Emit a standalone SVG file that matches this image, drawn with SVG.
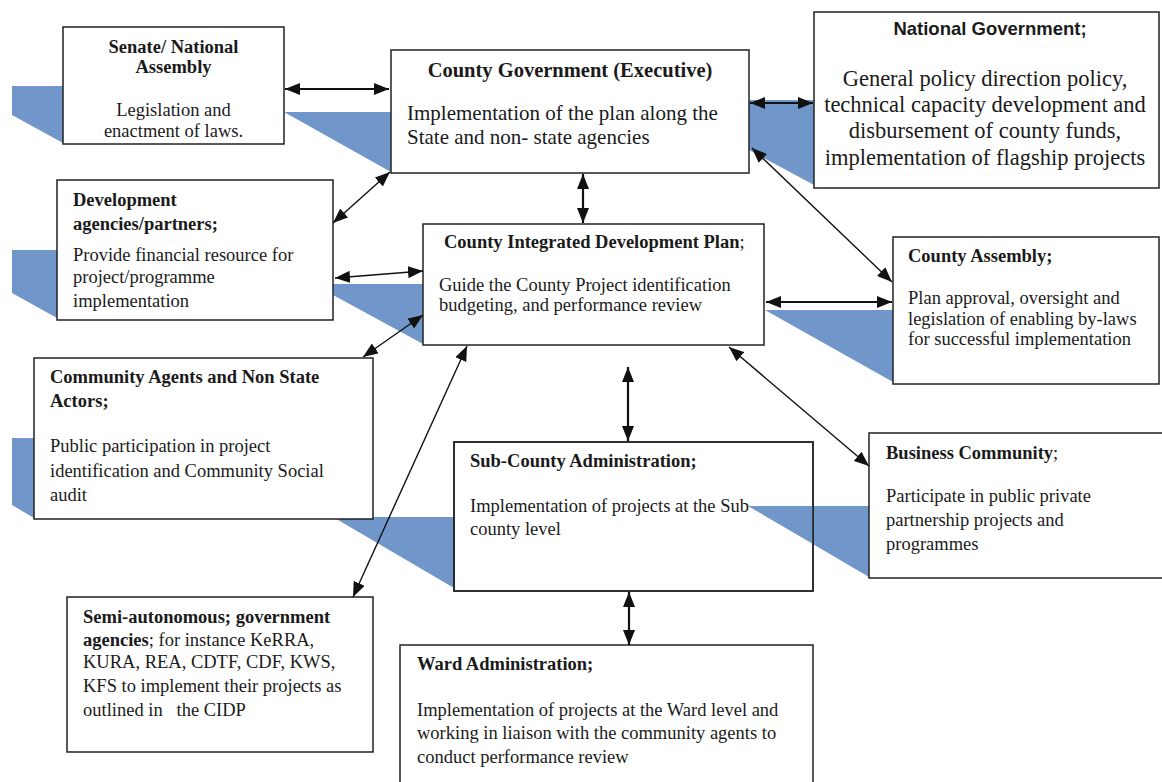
<svg xmlns="http://www.w3.org/2000/svg" width="1162" height="782" viewBox="0 0 1162 782">
<defs>
<style>
.t{font-family:"Liberation Serif","Times New Roman",serif;font-size:18.5px;fill:#1a1a1a}
.b{font-weight:bold}
.box{fill:#fff;stroke:#222;stroke-width:1.5}
.fr{fill:none;stroke:#222;stroke-width:1.5}
.sh{fill:#7196ca}
.c{stroke:#111;stroke-width:1.4;fill:none;marker-start:url(#ah);marker-end:url(#ah)}
.k{stroke-width:2.2}
</style>
<marker id="ah" markerUnits="userSpaceOnUse" markerWidth="15" markerHeight="12" refX="15" refY="6" orient="auto-start-reverse" viewBox="0 0 15 12">
<path d="M0,0 L15,6 L0,12 z" fill="#111"/>
</marker>
</defs>
<rect width="1162" height="782" fill="#fff"/>
<g id="shadows">
<polygon class="sh" points="12,86 63,86 63,143 12,115"/>
<polygon class="sh" points="284,112 391,112 391,172"/>
<polygon class="sh" points="749,100 814,100 814,185 749,150"/>
<polygon class="sh" points="12,250 57,250 57,318 12,293"/>
<polygon class="sh" points="333,284 423,284 423,344 333,295"/>
<polygon class="sh" points="765,310 893,310 893,382"/>
<polygon class="sh" points="12,438 34,438 34,518 12,505"/>
<polygon class="sh" points="333,517 454,517 454,588"/>
<polygon class="sh" points="748,506 869,506 869,577"/>
</g>
<g id="senate">
<rect class="box" x="63" y="27" width="221" height="117"/>
<text class="t b" x="173.5" y="53" text-anchor="middle">Senate/ National</text>
<text class="t b" x="173.5" y="73" text-anchor="middle">Assembly</text>
<text class="t" x="173.5" y="116" text-anchor="middle">Legislation and</text>
<text class="t" x="173.5" y="137" text-anchor="middle">enactment of laws.</text>
</g>
<g id="county-government">
<rect class="box" x="391" y="50" width="358" height="123"/>
<text class="t b" x="570" y="77" text-anchor="middle" style="font-size:20.5px">County Government (Executive)</text>
<text class="t" x="407" y="120" style="font-size:21px">Implementation of the plan along the</text>
<text class="t" x="407" y="144" style="font-size:21px">State and non- state agencies</text>
</g>
<g id="national-government">
<rect class="box" x="814" y="12" width="345" height="176"/>
<text x="990" y="35" text-anchor="middle" style="font-family:'Liberation Sans',Arial,sans-serif;font-weight:bold;font-size:18.5px;fill:#1a1a1a">National Government;</text>
<text class="t" x="985" y="86" text-anchor="middle" style="font-size:22.5px">General policy direction policy,</text>
<text class="t" x="985" y="112" text-anchor="middle" style="font-size:22.5px">technical capacity development and</text>
<text class="t" x="985" y="138" text-anchor="middle" style="font-size:22.5px">disbursement of county funds,</text>
<text class="t" x="985" y="165" text-anchor="middle" style="font-size:22.5px">implementation of flagship projects</text>
</g>
<g id="development-agencies">
<rect class="box" x="57" y="180" width="276" height="140"/>
<text class="t b" x="73" y="206">Development</text>
<text class="t b" x="73" y="230">agencies/partners;</text>
<text class="t" x="73" y="261">Provide financial resource for</text>
<text class="t" x="73" y="283">project/programme</text>
<text class="t" x="73" y="307">implementation</text>
</g>
<g id="cidp">
<rect class="box" x="423" y="224" width="341" height="121"/>
<text class="t" x="444" y="248"><tspan class="b">County Integrated Development Plan</tspan>;</text>
<text class="t" x="439" y="291">Guide the County Project identification</text>
<text class="t" x="439" y="311">budgeting, and performance review</text>
</g>
<g id="county-assembly">
<rect class="box" x="893" y="237" width="266" height="147"/>
<text class="t b" x="908" y="262">County Assembly;</text>
<text class="t" x="908" y="304">Plan approval, oversight and</text>
<text class="t" x="908" y="325">legislation of enabling by-laws</text>
<text class="t" x="908" y="345">for successful implementation</text>
</g>
<g id="community-agents">
<rect class="box" x="34" y="358" width="339" height="161"/>
<text class="t b" x="50" y="383">Community Agents and Non State</text>
<text class="t b" x="50" y="407">Actors;</text>
<text class="t" x="50" y="452">Public participation in project</text>
<text class="t" x="50" y="477">identification and Community Social</text>
<text class="t" x="50" y="501">audit</text>
</g>
<g id="sub-county">
<rect class="box" x="454" y="442" width="359" height="149"/>
<polygon class="sh" points="748,506 813,506 813,544"/>
<rect class="fr" x="454" y="442" width="359" height="149"/>
<text class="t b" x="470" y="467">Sub-County Administration;</text>
<text class="t" x="470" y="512">Implementation of projects at the Sub</text>
<text class="t" x="470" y="535">county level</text>
</g>
<g id="business-community">
<rect class="box" x="869" y="433" width="300" height="145"/>
<text class="t" x="886" y="459"><tspan class="b">Business Community</tspan>;</text>
<text class="t" x="886" y="502">Participate in public private</text>
<text class="t" x="886" y="526">partnership projects and</text>
<text class="t" x="886" y="550">programmes</text>
</g>
<g id="semi-autonomous">
<rect class="box" x="67" y="597" width="306" height="155"/>
<text class="t b" x="83" y="623">Semi-autonomous; government</text>
<text class="t" x="83" y="646"><tspan class="b">agencies</tspan>; for instance KeRRA,</text>
<text class="t" x="83" y="668">KURA, REA, CDTF, CDF, KWS,</text>
<text class="t" x="83" y="692">KFS to implement their projects as</text>
<text class="t" x="83" y="716" xml:space="preserve">outlined in   the CIDP</text>
</g>
<g id="ward">
<rect class="box" x="400" y="645" width="413" height="150"/>
<text class="t b" x="417" y="670">Ward Administration;</text>
<text class="t" x="417" y="716">Implementation of projects at the Ward level and</text>
<text class="t" x="417" y="739">working in liaison with the community agents to</text>
<text class="t" x="417" y="763">conduct performance review</text>
</g>
<g id="connectors">
<line class="c k" x1="285" y1="89" x2="389" y2="89"/>
<line class="c k" x1="750" y1="103" x2="813" y2="103"/>
<line class="c" x1="333" y1="223" x2="390" y2="172"/>
<line class="c" x1="335" y1="278" x2="423" y2="271"/>
<line class="c k" x1="583" y1="174" x2="583" y2="223"/>
<line class="c" x1="752" y1="148" x2="892" y2="282"/>
<line class="c k" x1="766" y1="302" x2="892" y2="302"/>
<line class="c" x1="423" y1="315" x2="363" y2="357"/>
<line class="c" x1="467" y1="346" x2="353" y2="597"/>
<line class="c k" x1="628" y1="367" x2="628" y2="441"/>
<line class="c" x1="729" y1="347" x2="869" y2="466"/>
<line class="c k" x1="629" y1="592" x2="629" y2="645"/>
</g>
</svg>
